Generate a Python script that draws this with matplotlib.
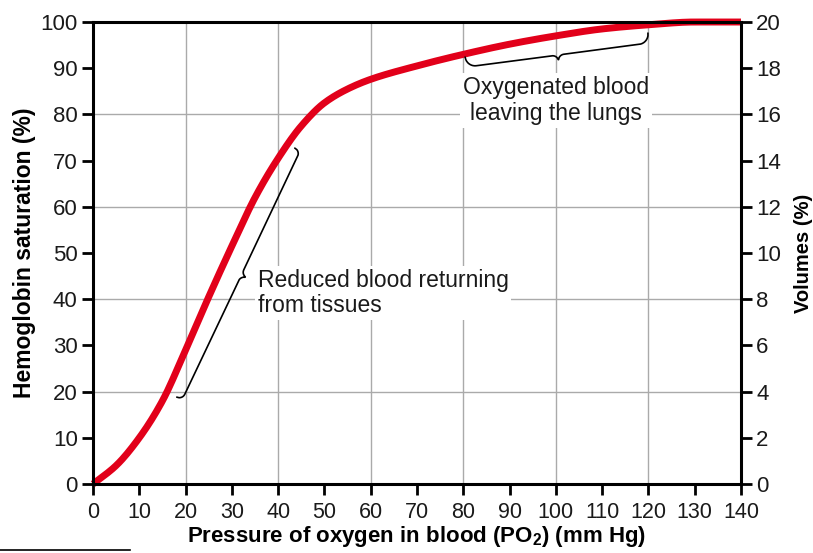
import matplotlib
matplotlib.use("Agg")
import matplotlib.pyplot as plt
from matplotlib import font_manager
from matplotlib.lines import Line2D
import numpy as np

plt.rcParams['font.family'] = ['Liberation Sans', 'DejaVu Sans']
plt.rcParams['mathtext.fontset'] = 'custom'
plt.rcParams['mathtext.rm'] = 'Liberation Sans'
plt.rcParams['mathtext.bf'] = 'Liberation Sans:bold'

# dissociation curve
po2 = [0, 5, 10, 15, 20, 25, 30, 35, 40, 45, 50, 55, 60, 70, 80, 90, 100, 110, 120, 130, 140]
saturation = [0, 4, 10, 18, 29, 40.5, 51.5, 62, 70.5, 77.5, 82.5, 85.5, 87.6, 90.5, 93, 95.2, 97, 98.5, 99.4, 100, 100]

x_ticks = list(range(0, 141, 10))
left_ticks = list(range(0, 101, 10))
right_ticks = list(range(0, 21, 2))
x_grid = [20, 40, 60, 80, 100, 120]
y_grid = [20, 40, 60, 80]

# braces: end points in data units, and labels
brace_reduced = ((18.1, 18.8), (43.6, 72.7))
brace_oxy = ((80.4, 92.4), (119.9, 97.6))
label_reduced = "Reduced blood returning\nfrom tissues"
label_oxy = "Oxygenated blood\nleaving the lungs"

RED = '#e2001a'
TXT = '#1a1a1a'

names = {f.name for f in font_manager.fontManager.ttflist}
NARROW = 'Liberation Sans Narrow' in names
xfam = ['Liberation Sans Narrow', 'Liberation Sans'] if NARROW else ['Liberation Sans']
xtick_size = 17 if NARROW else 15.5
xlabel_size = 18 if NARROW else 16


def smooth(xs, ys, n=400):
    # monotone cubic through the read points
    xs = np.asarray(xs, float)
    ys = np.asarray(ys, float)
    h = np.diff(xs)
    d = np.diff(ys) / h
    m = np.zeros_like(ys)
    m[0], m[-1] = d[0], d[-1]
    for i in range(1, len(xs) - 1):
        if d[i - 1] * d[i] <= 0:
            m[i] = 0
        else:
            w1 = 2 * h[i] + h[i - 1]
            w2 = h[i] + 2 * h[i - 1]
            m[i] = (w1 + w2) / (w1 / d[i - 1] + w2 / d[i])
    xx = np.linspace(xs[0], xs[-1], n)
    idx = np.clip(np.searchsorted(xs, xx) - 1, 0, len(xs) - 2)
    t = (xx - xs[idx]) / h[idx]
    h00 = 2 * t**3 - 3 * t**2 + 1
    h10 = t**3 - 2 * t**2 + t
    h01 = -2 * t**3 + 3 * t**2
    h11 = t**3 - t**2
    yy = h00 * ys[idx] + h10 * h[idx] * m[idx] + h01 * ys[idx + 1] + h11 * h[idx] * m[idx + 1]
    return xx, yy


def draw_brace(ax, p1, p2, side=1, hook=8, tip=6):
    # brace built in pixel space: hooks at the ends, cusp in the middle
    to_px = ax.transData
    a = to_px.transform(p1)
    b = to_px.transform(p2)
    v = b - a
    L = np.hypot(*v)
    u = v / L
    nrm = np.array([-u[1], u[0]]) * side
    s = np.linspace(0, L, 600)
    e = np.minimum(s, L - s) / hook
    off = hook * np.sqrt(1 - (1 - np.clip(e, 0, 1)) ** 2)
    c = np.clip(np.abs(s - L / 2) / tip, 0, 1)
    off = off + tip * (1 - np.sqrt(1 - (1 - c) ** 2))
    pts = a[None, :] + s[:, None] * u[None, :] + off[:, None] * nrm[None, :]
    dpts = to_px.inverted().transform(pts)
    ax.plot(dpts[:, 0], dpts[:, 1], color='black', lw=1.2, zorder=4,
            solid_capstyle='round', clip_on=False)


fig = plt.figure(figsize=(8.13, 5.53), dpi=100)
ax = fig.add_axes([0.1144, 0.1248, 0.797, 0.8354])

ax.set_xlim(0, 140)
ax.set_ylim(0, 100)
ax.set_xticks(x_ticks)
ax.set_yticks(left_ticks)
for gx in x_grid:
    ax.axvline(gx, color='#aaaaaa', lw=1.0, zorder=0)
for gy in y_grid:
    ax.axhline(gy, color='#aaaaaa', lw=1.0, zorder=0)
ax.tick_params(axis='y', direction='out', length=8, width=2, labelsize=16, pad=3,
               labelcolor=TXT)
ax.tick_params(axis='x', direction='out', length=8, width=2, labelsize=xtick_size, pad=5,
               labelcolor=TXT)
for sp in ax.spines.values():
    sp.set_linewidth(2.2)
    sp.set_zorder(5)

for lab in ax.get_xticklabels():
    lab.set_family(xfam)

xx, yy = smooth(po2, saturation)
ax.plot(xx, yy, color=RED, lw=5, zorder=3, solid_capstyle='butt', clip_on=False)

ax.set_xlabel(r'Pressure of oxygen in blood (P$\mathregular{O_2}$) (mm Hg)',
              fontsize=xlabel_size, fontweight='bold', labelpad=1, family=xfam)
ax.set_ylabel('Hemoglobin saturation (%)', fontsize=16.5, fontweight='bold', labelpad=3)

ax2 = ax.twinx()
ax2.set_ylim(0, 20)
ax2.set_yticks(right_ticks)
ax2.tick_params(direction='out', length=8, width=2, labelsize=16, pad=3, labelcolor=TXT)
for sp in ax2.spines.values():
    sp.set_visible(False)
ax2.set_ylabel('Volumes (%)', fontsize=14.5, fontweight='bold', labelpad=9)

fig.canvas.draw()
draw_brace(ax, brace_reduced[0], brace_reduced[1], side=-1, hook=6, tip=6)
draw_brace(ax, brace_oxy[0], brace_oxy[1], side=-1, hook=10, tip=6)

ax.text(35.6, 46.6, label_reduced, fontsize=16.5, va='top', ha='left', linespacing=1.15,
        color=TXT, zorder=2, bbox=dict(facecolor='white', edgecolor='none', pad=2))
ax.text(100, 83.0, label_oxy, fontsize=16.5, va='center', ha='center', linespacing=1.15,
        color=TXT, zorder=2, bbox=dict(facecolor='white', edgecolor='none', pad=2))

fig.add_artist(Line2D([0.0, 0.16], [0.005, 0.005], color='black', lw=1.2))

fig.savefig('out.png', dpi=100)
